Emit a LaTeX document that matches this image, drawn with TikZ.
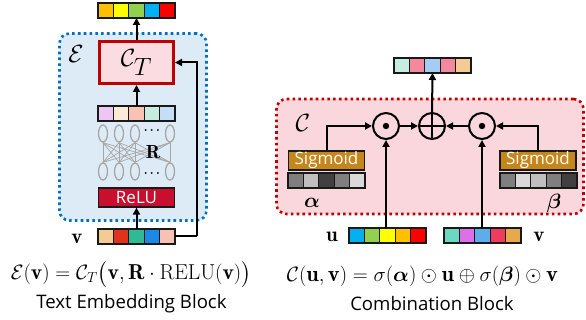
\documentclass[tikz,border=0pt]{standalone}
\usepackage{amsmath,amssymb}
\usepackage{fontspec}
\setsansfont{Open Sans}
\usetikzlibrary{arrows.meta,calc,shapes.geometric}
\definecolor{cA}{HTML}{FFC000}
\definecolor{cB}{HTML}{FFFF00}
\definecolor{cC}{HTML}{92D050}
\definecolor{cD}{HTML}{00B0F0}
\definecolor{cE}{HTML}{FF0000}
\definecolor{mA}{HTML}{EEC6F2}
\definecolor{mB}{HTML}{FAEBD7}
\definecolor{mC}{HTML}{F8C3B5}
\definecolor{mD}{HTML}{C6EBDF}
\definecolor{mE}{HTML}{C5DEF5}
\definecolor{bA}{HTML}{F4CC93}
\definecolor{bB}{HTML}{E0321C}
\definecolor{bC}{HTML}{2FB996}
\definecolor{bD}{HTML}{1A8AE6}
\definecolor{bE}{HTML}{F8C1B3}
\definecolor{oA}{HTML}{C5EEE0}
\definecolor{oB}{HTML}{F4899E}
\definecolor{oC}{HTML}{A3CDF5}
\definecolor{oD}{HTML}{F2CC94}
\definecolor{vA}{HTML}{6DD8C0}
\definecolor{vB}{HTML}{DD6FE8}
\definecolor{vC}{HTML}{5DADEC}
\definecolor{vD}{HTML}{EF3B5E}
\definecolor{vE}{HTML}{E7A94B}
\definecolor{gA}{HTML}{7F7F7F}
\definecolor{gB}{HTML}{BFBFBF}
\definecolor{gC}{HTML}{404040}
\definecolor{gD}{HTML}{D9D9D9}
\definecolor{eblue}{HTML}{0070C0}
\definecolor{efill}{HTML}{DDEBF7}
\definecolor{cred}{HTML}{C00000}
\definecolor{cfill}{HTML}{FAD7DD}
\definecolor{ctfill}{HTML}{FBDCE1}
\definecolor{relufill}{HTML}{C8102E}
\definecolor{sigfill}{HTML}{C5871C}
\definecolor{nngrey}{HTML}{A6A6A6}
\newcommand\cellvec[4]{%
  \foreach \c [count=\i] in {#4}{%
    \node[cell,fill=\c] (#1-\i) at ({#2+(\i-0.5)*15.4},#3) {};}%
  \node[vframe] (#1) at ({#2+38.5},#3) {};}
\begin{document}
\begin{tikzpicture}[x=1pt,y=-1pt,
  cell/.style={draw=black!90,line width=1.3pt,minimum width=15.4pt,minimum height=15pt,inner sep=0pt,outer sep=0pt},
  vframe/.style={minimum width=77pt,minimum height=15pt,inner sep=0pt,outer sep=0pt},
  arr/.style={line width=2pt,-{Triangle[length=7pt,width=7pt]}},
  thickline/.style={line width=2pt},
  dotbox/.style={rounded corners=10pt,line width=2.6pt,dash pattern=on 2.6pt off 3.2pt,inner sep=0pt},
  opbox/.style={draw=black!90,line width=1.2pt,minimum width=76pt,minimum height=19pt,inner sep=0pt,
    font=\sffamily\fontsize{17}{18}\selectfont},
  neuron/.style={ellipse,draw=nngrey,line width=1.3pt,minimum width=9pt,minimum height=17pt,inner sep=0pt},
  opc/.style={circle,draw=black,line width=2pt,minimum size=26pt,inner sep=0pt},
  lbl/.style={font=\fontsize{21}{22}\selectfont,inner sep=0pt},
  captext/.style={font=\sffamily\fontsize{18.6}{22}\selectfont,inner sep=0pt},
  eqn/.style={inner sep=0pt}]
\useasboundingbox (0,0) rectangle (586,320);
% ---------- Text embedding block ----------
\node[dotbox,draw=eblue,fill=efill,minimum width=147pt,minimum height=187pt] (E) at (133,127) {};
\node[font=\fontsize{35}{36}\selectfont,inner sep=0pt] (Elbl) at (76,54) {$\mathcal{E}$};
\node[draw=cred,fill=ctfill,line width=3pt,minimum width=74pt,minimum height=42pt,inner sep=0pt,
  font=\fontsize{33}{34}\selectfont] (CT) at (136.5,62.5) {$\mathcal{C}_T$};
\cellvec{tvec}{98}{10.5}{cA,cB,cC,cD,cE}
\cellvec{mvec}{98}{113.5}{mA,mB,mC,mD,mE}
\foreach \x [count=\i] in {103,119,135,170}{
  \node[neuron] (t\i) at (\x,133.5) {};
  \node[neuron] (b\i) at (\x,171.5) {};}
\foreach \i in {1,...,4}{\foreach \j in {1,...,4}{
  \draw[nngrey,line width=0.7pt] (t\i.south) -- (b\j.north);}}
\node[font=\fontsize{13}{13}\selectfont,inner sep=0pt] (dt) at (153,131) {$\boldsymbol{\cdots}$};
\node[font=\fontsize{13}{13}\selectfont,inner sep=0pt] (db) at (153,174) {$\boldsymbol{\cdots}$};
\node[font=\fontsize{19}{20}\selectfont,inner sep=0pt] (R) at (153,152.5) {$\mathbf{R}$};
\node[opbox,fill=relufill,text=white] (relu) at (136.5,197.5) {ReLU};
\cellvec{bvec}{98}{236.5}{bA,bB,bC,bD,bE}
\node[lbl] (vl) at (77,238.5) {$\mathbf{v}$};
\coordinate (corner) at (197,236.5);
\draw[arr] (bvec.north) -- (relu.south);
\draw[arr] (mvec.north) -- (CT.south);
\draw[arr] (CT.north) -- (tvec.south);
\draw[thickline] (bvec.east) -- (corner);
\draw[arr] (corner) |- (CT.east);
\node[eqn,font=\fontsize{21.6}{26}\selectfont] (eqE) at (131,274.5) {$\mathcal{E}(\mathbf{v})=\mathcal{C}_T\bigl(\mathbf{v},\mathbf{R}\cdot\mathrm{RELU}(\mathbf{v})\bigr)$};
\node[captext] (capE) at (131.5,304) {Text Embedding Block};
% ---------- Combination block ----------
\node[dotbox,draw=cred,fill=cfill,minimum width=307pt,minimum height=115pt] (C) at (430,156.5) {};
\node[font=\fontsize{34}{36}\selectfont,inner sep=0pt] (Clbl) at (303,123) {$\mathcal{C}$};
\node[opc] (od1) at (386,126) {};
\node[opc] (op) at (432,126) {};
\node[opc] (od2) at (482,126) {};
\fill (od1) circle (3.2pt);
\fill (od2) circle (3.2pt);
\draw[thickline] (op.north) -- (op.south);
\draw[thickline] (op.west) -- (op.east);
\node[opbox,fill=sigfill,text=white] (sigL) at (326.5,160.5) {Sigmoid};
\node[opbox,fill=sigfill,text=white] (sigR) at (538,160.5) {Sigmoid};
\cellvec{aL}{288}{180.5}{gA,gB,gC,gA,gD}
\cellvec{bR}{500}{180.5}{gA,gD,gB,gA,gC}
\node[lbl] (al) at (312,203) {$\boldsymbol{\alpha}$};
\node[lbl] (be) at (554,203) {$\boldsymbol{\beta}$};
\cellvec{ovec}{394}{65.5}{oA,oB,oC,oB,oD}
\cellvec{uvec}{349}{235.5}{cD,cC,cB,cA,cE}
\cellvec{vvec}{444}{235.5}{vA,vB,vC,vD,vE}
\node[lbl] (ul) at (332,237) {$\mathbf{u}$};
\node[lbl] (vl2) at (539,237) {$\mathbf{v}$};
\draw[arr] (sigL.north) |- (od1.west);
\draw[arr] (sigR.north) |- (od2.east);
\draw[arr] (uvec.north -| od1) -- (od1.south);
\draw[arr] (vvec.north -| od2) -- (od2.south);
\draw[arr] (od1.east) -- (op.west);
\draw[arr] (od2.west) -- (op.east);
\draw[arr] (op.north) -- (ovec.south);
\node[eqn,font=\fontsize{22.4}{26}\selectfont] (eqC) at (422.5,276.5) {$\mathcal{C}(\mathbf{u},\mathbf{v})=\sigma(\boldsymbol{\alpha})\odot\mathbf{u}\oplus\sigma(\boldsymbol{\beta})\odot\mathbf{v}$};
\node[captext] (capC) at (432,304) {Combination Block};
\end{tikzpicture}
\end{document}
